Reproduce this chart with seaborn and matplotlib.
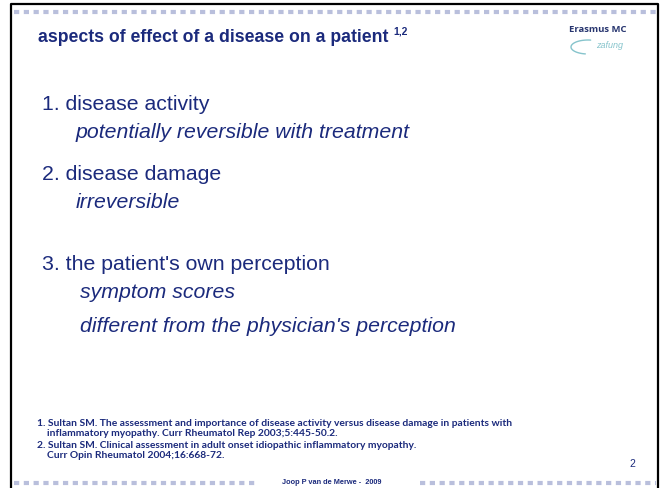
import matplotlib
matplotlib.use("Agg")
import matplotlib.pyplot as plt
import seaborn as sns
import numpy as np

# slide text content
title = "aspects of effect of a disease on a patient"
title_refs = "1,2"
items = ["1. disease activity", "2. disease damage", "3. the patient's own perception"]
notes = [
    ["potentially reversible with treatment"],
    ["irreversible"],
    ["symptom scores", "different from the physician's perception"],
]
references = [
    "1. Sultan SM. The assessment and importance of disease activity versus disease damage in patients with",
    "    inflammatory myopathy. Curr Rheumatol Rep 2003;5:445-50.2.",
    "2. Sultan SM. Clinical assessment in adult onset idiopathic inflammatory myopathy.",
    "    Curr Opin Rheumatol 2004;16:668-72.",
]
footer = "Joop P van de Merwe -  2009"
page_number = "2"

NAVY = "#1b2a7c"
DASH = "#b9bfdc"
TEAL = "#86c4cc"

sns.set_theme(style="white")
plt.rcParams["font.family"] = ["Liberation Sans", "DejaVu Sans"]

W, H = 665, 488
fig = plt.figure(figsize=(W / 100, H / 100), dpi=100)
ax = fig.add_axes([0, 0, 1, 1])
ax.set_xlim(0, W)
ax.set_ylim(H, 0)
ax.axis("off")

# frame: black top / sides, dotted blue rules
ax.plot([11, 11, 658, 658], [H, 4, 4, H], color="black", lw=1.6, solid_capstyle="butt")
dash_lw = 3.0
dash_style = (0, (1.25, 1.1))
ax.hlines(12, 14, 656, color=DASH, lw=dash_lw, linestyles=[dash_style], capstyle="butt")
ax.hlines(483, 14, 258, color=DASH, lw=dash_lw, linestyles=[dash_style], capstyle="butt")
ax.hlines(483, 420, 656, color=DASH, lw=dash_lw, linestyles=[dash_style], capstyle="butt")

# title + superscript placed right after it
t = ax.text(38, 37, title, fontsize=12.7, fontweight="bold", color=NAVY, va="center")
fig.canvas.draw()
bb = t.get_window_extent().transformed(ax.transData.inverted())
ax.text(max(bb.x0, bb.x1) + 5, 31, title_refs, fontsize=7.5, fontweight="bold",
        color=NAVY, va="center")

# logo
ax.text(598, 30, "Erasmus MC", fontsize=6.8, fontweight="bold", color="#27356f",
        ha="center", va="center", family=["Open Sans", "DejaVu Sans"])
arc = np.linspace(0.55 * np.pi, 1.55 * np.pi, 40)
ax.plot(588 + 17 * np.cos(arc), 47 + 7 * np.sin(arc), color=TEAL, lw=1.0)
ax.text(610, 45, "zafung", fontsize=6.5, style="italic", color=TEAL,
        ha="center", va="center")

# body
item_y = [104, 174, 264]
note_y = [[132], [202], [293, 326]]
note_x = [76, 76, 80]
for label, y, sub, sy, nx in zip(items, item_y, notes, note_y, note_x):
    ax.text(42, y, label, fontsize=15.3, color=NAVY, va="center")
    for s, yy in zip(sub, sy):
        ax.text(nx, yy, s, fontsize=15.3, style="italic", color=NAVY, va="center")

# references
ref_y = [423, 434, 445, 456]
for line, y in zip(references, ref_y):
    ax.text(37, y, line, fontsize=7.35, fontweight="bold", color=NAVY, va="center",
            family=["Lato", "DejaVu Sans"])

ax.text(632, 464, page_number, fontsize=7.5, color=NAVY, ha="center", va="center")
ax.text(332, 482, footer, fontsize=5.3, fontweight="bold", color=NAVY, ha="center",
        va="center")

fig.savefig("out.png", dpi=100)
plt.close(fig)
